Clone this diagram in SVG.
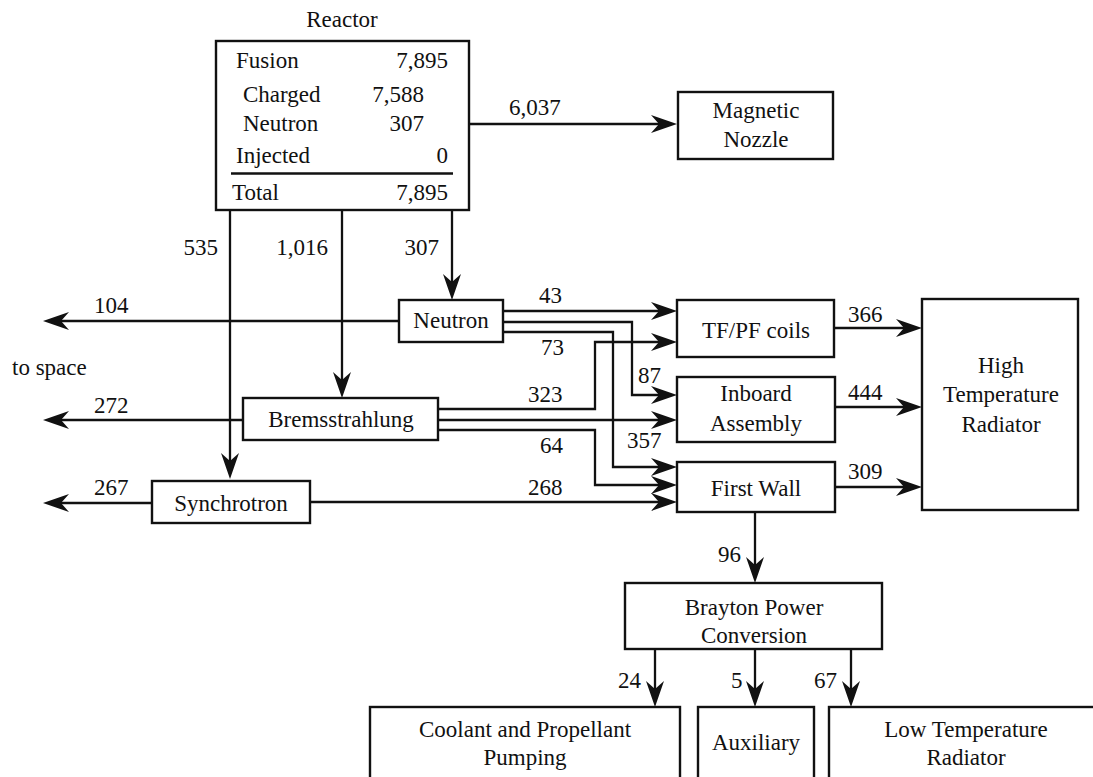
<svg xmlns="http://www.w3.org/2000/svg" width="1093" height="777" viewBox="0 0 1093 777">
<style>
text{font-family:'Liberation Serif','Times New Roman',serif;font-size:23px;fill:#111}
.c{text-anchor:middle}
.e{text-anchor:end}
.box{fill:#fff;stroke:#111;stroke-width:2.4}
.ln{fill:none;stroke:#111;stroke-width:2.3}
.ar{marker-end:url(#ah)}
</style>
<defs>
<marker id="ah" markerUnits="userSpaceOnUse" viewBox="0 0 26 18" markerWidth="26" markerHeight="18" refX="16" refY="9" orient="auto">
<path d="M0,0 L26,9 L0,18 L8,9 Z" fill="#111"/>
</marker>
</defs>
<rect width="1093" height="777" fill="#fff"/>

<g id="connectors">
<path class="ln ar" d="M469,124 H667"/>
<path class="ln ar" d="M230,210 V469"/>
<path class="ln ar" d="M342,210 V388"/>
<path class="ln ar" d="M452,210 V290"/>
<path class="ln ar" d="M399,321 H53"/>
<path class="ln ar" d="M503,311 H667"/>
<path class="ln ar" d="M503,322 H632 V395 H667"/>
<path class="ln ar" d="M503,332 H613 V467 H667"/>
<path class="ln ar" d="M243,420 H53"/>
<path class="ln ar" d="M438,409 H595 V342 H667"/>
<path class="ln ar" d="M438,420 H667"/>
<path class="ln ar" d="M438,430 H595 V485 H667"/>
<path class="ln ar" d="M152,503 H53"/>
<path class="ln ar" d="M310,502 H667"/>
<path class="ln ar" d="M834,328 H912"/>
<path class="ln ar" d="M835,407 H912"/>
<path class="ln ar" d="M835,487 H912"/>
<path class="ln ar" d="M755,512 V573"/>
<path class="ln ar" d="M655,649 V697"/>
<path class="ln ar" d="M755,649 V697"/>
<path class="ln ar" d="M851,649 V697"/>
<g id="labels">
<text x="509" y="115">6,037</text>
<text class="e" x="218" y="255">535</text>
<text class="e" x="328" y="255">1,016</text>
<text class="e" x="439" y="255">307</text>
<text x="94" y="313">104</text>
<text x="12" y="375">to space</text>
<text x="94" y="413">272</text>
<text x="94" y="495">267</text>
<text x="539" y="303">43</text>
<text x="541" y="355">73</text>
<text x="638" y="383">87</text>
<text x="528" y="402">323</text>
<text x="627" y="448">357</text>
<text x="540" y="453">64</text>
<text x="528" y="495">268</text>
<text x="848" y="322">366</text>
<text x="848" y="400">444</text>
<text x="848" y="479">309</text>
<text x="718" y="562">96</text>
<text x="618" y="688">24</text>
<text x="731" y="688">5</text>
<text x="814" y="688">67</text>
</g>
</g>

<g id="reactor">
<text class="c" x="342" y="27">Reactor</text>
<rect class="box" x="216" y="41" width="253" height="169"/>
<text x="236" y="68">Fusion</text>
<text class="e" x="448" y="68">7,895</text>
<text x="243" y="102">Charged</text>
<text class="e" x="424" y="102">7,588</text>
<text x="243" y="131">Neutron</text>
<text class="e" x="424" y="131">307</text>
<text x="236" y="163">Injected</text>
<text class="e" x="448" y="163">0</text>
<line class="ln" x1="231" y1="173.5" x2="453" y2="173.5"/>
<text x="232" y="200">Total</text>
<text class="e" x="448" y="200">7,895</text>
</g>

<g id="nozzle">
<rect class="box" x="678" y="92" width="155" height="67"/>
<text class="c" x="756" y="118">Magnetic</text>
<text class="c" x="756" y="147">Nozzle</text>
</g>

<g id="neutron">
<rect class="box" x="399" y="300" width="104" height="42"/>
<text class="c" x="451" y="328">Neutron</text>
</g>

<g id="brems">
<rect class="box" x="243" y="398" width="195" height="42"/>
<text class="c" x="341" y="427">Bremsstrahlung</text>
</g>

<g id="synchrotron">
<rect class="box" x="152" y="481" width="158" height="42"/>
<text class="c" x="231" y="511">Synchrotron</text>
</g>

<g id="tfpf">
<rect class="box" x="677" y="300" width="157" height="57"/>
<text class="c" x="756" y="338">TF/PF coils</text>
</g>

<g id="inboard">
<rect class="box" x="677" y="377" width="158" height="65"/>
<text class="c" x="756" y="401">Inboard</text>
<text class="c" x="756" y="431">Assembly</text>
</g>

<g id="firstwall">
<rect class="box" x="677" y="462" width="158" height="50"/>
<text class="c" x="756" y="496">First Wall</text>
</g>

<g id="htr">
<rect class="box" x="922" y="299" width="156" height="211"/>
<text class="c" x="1001" y="373">High</text>
<text class="c" x="1001" y="402">Temperature</text>
<text class="c" x="1001" y="432">Radiator</text>
</g>

<g id="brayton">
<rect class="box" x="625" y="583" width="257" height="66"/>
<text class="c" x="754" y="615">Brayton Power</text>
<text class="c" x="754" y="643">Conversion</text>
</g>

<g id="coolant">
<rect class="box" x="370" y="707" width="310" height="90"/>
<text class="c" x="525" y="737">Coolant and Propellant</text>
<text class="c" x="525" y="765">Pumping</text>
</g>

<g id="auxiliary">
<rect class="box" x="698" y="707" width="116" height="90"/>
<text class="c" x="756" y="750">Auxiliary</text>
</g>

<g id="ltr">
<rect class="box" x="829" y="707" width="280" height="90"/>
<text class="c" x="966" y="737">Low Temperature</text>
<text class="c" x="966" y="765">Radiator</text>
</g>
</svg>
